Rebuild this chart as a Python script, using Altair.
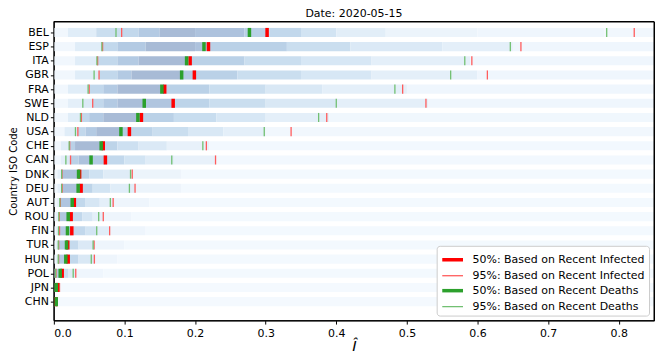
import altair as alt
import pandas as pd

COUNTRIES = ["BEL", "ESP", "ITA", "GBR", "FRA", "SWE", "NLD", "USA", "CHE", "CAN",
             "DNK", "DEU", "AUT", "ROU", "FIN", "TUR", "HUN", "POL", "JPN", "CHN"]

# 50% / 95% markers (value of I-hat)
R50 = [0.302, 0.219, 0.193, 0.199, 0.157, 0.169, 0.124, 0.107, 0.070, 0.073,
       0.0365, 0.0386, 0.029, 0.0245, 0.0254, 0.0197, 0.0203, 0.0118, 0.0052, 0.003]
G50 = [0.277, 0.2126, 0.188, 0.181, 0.153, 0.128, 0.119, 0.095, 0.067, 0.0527,
       0.035, 0.0344, 0.026, 0.0203, 0.0193, 0.0179, 0.0169, 0.009, 0.0034, 0.0034]
R95_LO = [0.096, 0.069, 0.062, 0.064, 0.050, 0.055, 0.039, 0.034, 0.0224, 0.0236,
          0.0115, 0.0118, 0.0092, 0.0078, 0.008, 0.0068, 0.0068, 0.003, 0.0012, 0.001]
G95_LO = [0.088, 0.068, 0.061, 0.057, 0.0485, 0.041, 0.0377, 0.0306, 0.0217, 0.017,
          0.011, 0.011, 0.0085, 0.007, 0.0066, 0.0062, 0.0062, 0.0024, 0.0005, 0.0005]
R95_HI = [0.822, 0.6615, 0.592, 0.614, 0.494, 0.527, 0.3865, 0.336, 0.216, 0.229,
          0.111, 0.115, 0.084, 0.070, 0.079, 0.057, 0.0574, 0.031, 0.008, 0.004]
G95_HI = [0.783, 0.6465, 0.582, 0.562, 0.483, 0.400, 0.375, 0.298, 0.211, 0.167,
          0.1086, 0.107, 0.080, 0.0635, 0.0607, 0.0556, 0.053, 0.0274, 0.007, 0.004]

# density band: segment edges and shading level (0 = faint .. 6 = darkest)
BAND_EDGES = [
    [0, 0.02, 0.06, 0.096, 0.12, 0.15, 0.20, 0.27, 0.305, 0.35, 0.40, 0.47, 0.60, 0.78],
    [0, 0.03, 0.069, 0.09, 0.13, 0.20, 0.22, 0.33, 0.42, 0.55, 0.65],
    [0, 0.03, 0.062, 0.09, 0.12, 0.19, 0.27, 0.35, 0.45, 0.59],
    [0, 0.03, 0.064, 0.09, 0.11, 0.18, 0.20, 0.26, 0.35, 0.45, 0.60],
    [0, 0.02, 0.05, 0.07, 0.09, 0.157, 0.22, 0.30, 0.38, 0.50],
    [0, 0.02, 0.041, 0.055, 0.07, 0.09, 0.13, 0.17, 0.22, 0.30, 0.40, 0.53],
    [0, 0.02, 0.039, 0.05, 0.07, 0.124, 0.17, 0.23, 0.30, 0.39],
    [0, 0.015, 0.034, 0.045, 0.06, 0.095, 0.107, 0.14, 0.19, 0.24, 0.30],
    [0, 0.01, 0.0225, 0.03, 0.07, 0.09, 0.12, 0.16, 0.22],
    [0, 0.01, 0.017, 0.024, 0.035, 0.053, 0.073, 0.10, 0.13, 0.17, 0.23],
    [0, 0.005, 0.0115, 0.035, 0.05, 0.07, 0.11, 0.18],
    [0, 0.005, 0.0118, 0.039, 0.055, 0.08, 0.115, 0.18],
    [0, 0.004, 0.0092, 0.029, 0.045, 0.065, 0.084, 0.135],
    [0, 0.003, 0.0078, 0.0245, 0.04, 0.055, 0.07, 0.11],
    [0, 0.003, 0.008, 0.0254, 0.045, 0.06, 0.079, 0.13],
    [0, 0.003, 0.0068, 0.02, 0.035, 0.057, 0.10],
    [0, 0.003, 0.0068, 0.02, 0.035, 0.057, 0.09],
    [0, 0.001, 0.003, 0.012, 0.02, 0.031, 0.07],
    [0, 0.008],
    [0, 0.004],
]
BAND_LEVELS = [
    [0.3, 1.2, 2.5, 3.0, 4.0, 5.0, 4.5, 3.6, 3.0, 2.0, 1.1, 0.6, 0.4, 0.3],
    [0.3, 1.2, 3.0, 4.0, 5.0, 4.5, 3.5, 2.5, 1.5, 1.0, 0.4],
    [0.3, 1.2, 3.0, 4.0, 5.0, 3.5, 2.5, 1.7, 1.0, 0.4],
    [0.3, 1.2, 3.0, 4.0, 5.0, 4.0, 3.5, 2.5, 1.7, 1.0, 0.4],
    [0.3, 1.2, 3.0, 4.0, 5.0, 3.5, 2.5, 1.6, 1.0, 0.4],
    [0.3, 1.0, 1.5, 3.0, 4.0, 4.8, 4.3, 3.3, 2.5, 1.6, 1.0, 0.4],
    [0.3, 1.2, 3.0, 4.0, 5.0, 3.5, 2.6, 1.7, 1.0, 0.35],
    [0.3, 1.2, 3.0, 4.0, 5.0, 4.0, 3.3, 2.5, 1.6, 1.0, 0.3],
    [0.3, 1.2, 3.5, 5.0, 3.3, 2.3, 1.5, 0.8, 0.25],
    [0.3, 1.0, 1.5, 3.5, 4.5, 4.0, 3.0, 2.0, 1.3, 0.8, 0.25],
    [0.3, 1.0, 4.5, 3.3, 2.2, 1.3, 0.6, 0.2],
    [0.3, 1.0, 4.5, 3.3, 2.0, 1.2, 0.6, 0.2],
    [0.3, 1.0, 4.3, 3.0, 1.8, 1.0, 0.5, 0.2],
    [0.3, 1.0, 4.2, 3.0, 1.8, 1.0, 0.5, 0.2],
    [0.3, 1.0, 4.0, 3.0, 2.0, 1.2, 0.5, 0.2],
    [0.3, 1.0, 4.0, 2.8, 1.5, 0.5, 0.2],
    [0.3, 1.0, 4.0, 3.0, 1.6, 0.5, 0.2],
    [0.3, 1.0, 4.0, 2.5, 1.3, 0.4, 0.2],
    [3.0, 0.15],
    [3.0, 0.15],
]

X_MAX = 0.85
X_TICKS = [0.0, 0.1, 0.2, 0.3, 0.4, 0.5, 0.6, 0.7, 0.8]
LEVEL_COLORS = ["#f7fbff", "#e4eff9", "#d2e4f3", "#c2d8ec", "#b3cae3", "#a8bbd6", "#a0afca"]

SERIES = ["50%: Based on Recent Infected", "95%: Based on Recent Infected",
          "50%: Based on Recent Deaths", "95%: Based on Recent Deaths"]
SERIES_COLORS = ["#ff0000", "#ff5c5c", "#2ca02c", "#72c072"]
SERIES_WIDTHS = [3.5, 1.3, 3.5, 1.3]

HALF = 0.32
N = len(COUNTRIES)
Y_LO, Y_HI = -0.774, N - 1 + 1.337

# ---- build tables ----
band_rows = []
for i, (edges, levels) in enumerate(zip(BAND_EDGES, BAND_LEVELS)):
    ends = edges[1:] + [X_MAX]
    for a, b, lv in zip(edges, ends, levels):
        band_rows.append({"idx": i, "y0": i - HALF, "y1": i + HALF, "x0": a, "x1": b, "level": lv})
band_df = pd.DataFrame(band_rows)

tick_rows = []
def add(values, series):
    for i, v in enumerate(values):
        tick_rows.append({"idx": i, "y0": i - HALF, "y1": i + HALF, "x": v, "series": series})

add(R95_LO, SERIES[1]); add(R95_HI, SERIES[1])
add(G95_LO, SERIES[3]); add(G95_HI, SERIES[3])
add(R50, SERIES[0])
add(G50, SERIES[2])
tick_df = pd.DataFrame(tick_rows)

label_expr = "[" + ",".join("'%s'" % c for c in COUNTRIES) + "][datum.value]"

x_scale = alt.Scale(domain=[0, X_MAX], nice=False, zero=False)
y_scale = alt.Scale(domain=[Y_LO, Y_HI], reverse=True, nice=False, zero=False)

x_axis = alt.Axis(values=X_TICKS, format=".1f", grid=False, title="Î", titleFontStyle="italic",
                  titleFontSize=15, titleFontWeight="normal", titlePadding=1, labelFontSize=11,
                  tickSize=3.5, domain=False, labelPadding=3, labelOverlap=False)
y_axis = alt.Axis(values=list(range(N)), labelExpr=label_expr, grid=False,
                  title="Country ISO Code", titleFontSize=10, titleFontWeight="normal",
                  titlePadding=5, labelFontSize=11, tickSize=3.5, domain=False, labelPadding=2,
                  labelOverlap=False, labelBaseline="middle", labelBound=False, labelFlush=False)

bands = alt.Chart(band_df).mark_rect(strokeWidth=0).encode(
    x=alt.X("x0:Q", scale=x_scale, axis=x_axis),
    x2="x1:Q",
    y=alt.Y("y0:Q", scale=y_scale, axis=y_axis),
    y2="y1:Q",
    fill=alt.Fill("level:Q", scale=alt.Scale(domain=[0, 6], range=LEVEL_COLORS), legend=None),
)

ticks = alt.Chart(tick_df).mark_rule().encode(
    x=alt.X("x:Q", scale=x_scale, axis=x_axis),
    y=alt.Y("y0:Q", scale=y_scale, axis=y_axis),
    y2="y1:Q",
    stroke=alt.Stroke("series:N", scale=alt.Scale(domain=SERIES, range=SERIES_COLORS), title=None),
    strokeWidth=alt.StrokeWidth("series:N", scale=alt.Scale(type="ordinal", domain=SERIES, range=SERIES_WIDTHS), title=None),
)

frame = alt.Chart(pd.DataFrame({"a": [0]})).mark_rect(filled=False, stroke="#000000", strokeWidth=1).encode(
    x=alt.datum(0, scale=x_scale, axis=x_axis),
    x2=alt.datum(X_MAX),
    y=alt.datum(Y_LO, scale=y_scale, axis=y_axis),
    y2=alt.datum(Y_HI),
)

chart = alt.layer(bands, ticks, frame).properties(
    width=602, height=300,
    title=alt.TitleParams("Date: 2020-05-15", fontSize=11, fontWeight="normal", offset=2, anchor="middle"),
    autosize=alt.AutoSizeParams(type="none"),
    padding={"left": 46, "top": 13, "right": 2, "bottom": 39},
).configure(font="DejaVu Sans").configure_view(
    stroke="#000000", strokeWidth=1
).configure_axis(
    labelColor="#000000", titleColor="#000000", tickColor="#000000", labelFont="DejaVu Sans",
    titleFont="DejaVu Sans", labelOverlap=False
).configure_title(color="#000000", font="DejaVu Sans").configure_legend(
    orient="bottom-right", offset=5, strokeColor="#cccccc", fillColor="#ffffff", padding=4,
    cornerRadius=3, labelFontSize=11, labelLimit=300, symbolType="M-1.3,0H1.3", symbolSize=256,
    rowPadding=0, labelOffset=10, symbolOffset=2, labelColor="#000000", labelFont="DejaVu Sans"
)

chart.save("out.html", embed_options={"renderer": "svg", "actions": False})
